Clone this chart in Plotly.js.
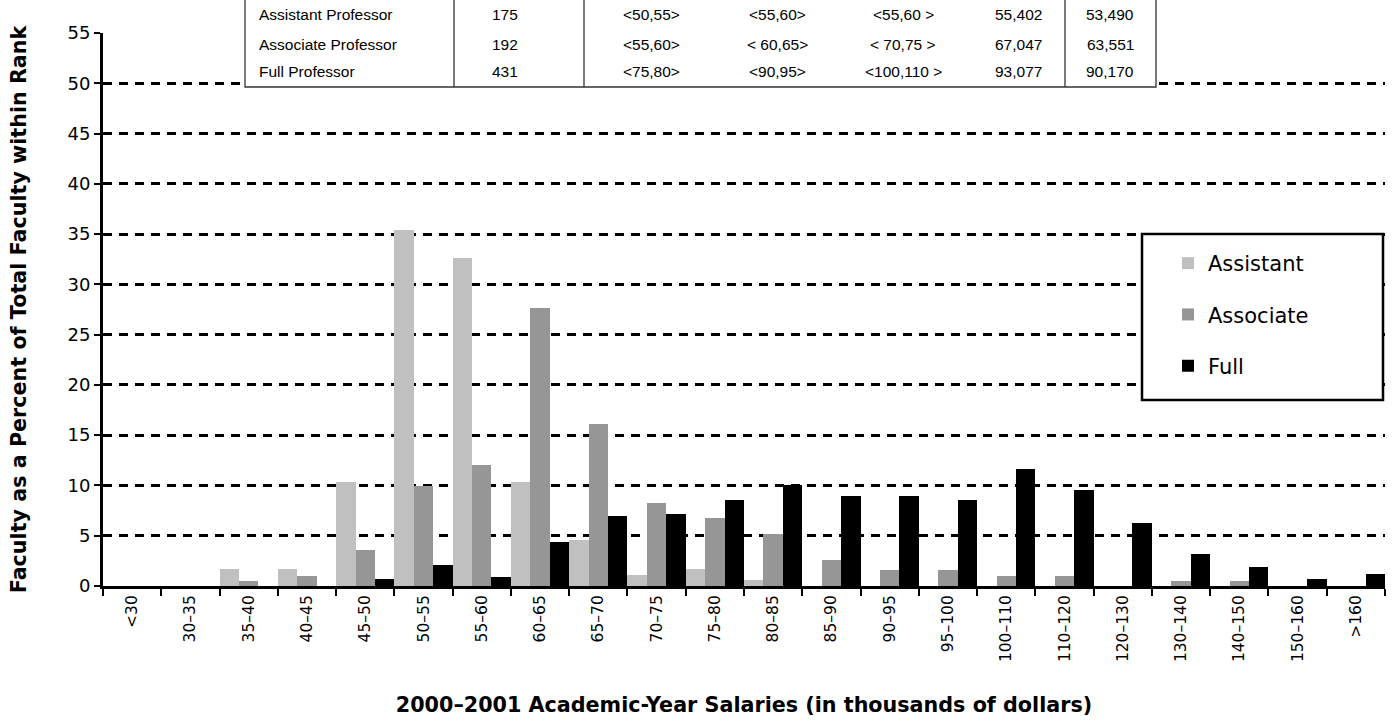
<!DOCTYPE html>
<html>
<head>
<meta charset="utf-8">
<script src="https://cdn.plot.ly/plotly-3.0.1.min.js"></script>
<style>html,body{margin:0;padding:0;background:#fff;}#chart{width:1394px;height:724px;}</style>
</head>
<body>
<div id="chart"></div>
<script>
// ---- Data ----
const categories = ["<30","30–35","35–40","40–45","45–50","50–55","55–60","60–65","65–70","70–75","75–80","80–85","85–90","90–95","95–100","100–110","110–120","120–130","130–140","140–150","150–160",">160"];
const assistant = [0,0,1.7,1.7,10.3,35.4,32.6,10.3,4.6,1.1,1.7,0.6,0,0,0,0,0,0,0,0,0,0];
const associate = [0,0,0.5,1.0,3.6,9.9,12.0,27.6,16.1,8.3,6.8,5.2,2.6,1.6,1.6,1.0,1.0,0,0.5,0.5,0,0];
const full = [0,0,0,0,0.7,2.1,0.9,4.4,7.0,7.2,8.6,10.0,9.0,9.0,8.6,11.6,9.5,6.3,3.2,1.9,0.7,1.2];
const seriesNames = ["Assistant","Associate","Full"];

// Summary table shown at top
const tableRanks = ["Assistant Professor","Associate Professor","Full Professor"];
const tableCounts = ["175","192","431"];
const tableMode1 = ["<50,55>","<55,60>","<75,80>"];
const tableMode2 = ["<55,60>","< 60,65>","<90,95>"];
const tableMedianBin = ["<55,60 >","< 70,75 >","<100,110 >"];
const tableMean = ["55,402","67,047","93,077"];
const tableMedian = ["53,490","63,551","90,170"];

// ---- Geometry helpers (pixel -> paper) ----
const L = 103, R = 1385, T = 33, B = 586;
const px = x => (x - L) / (R - L);
const py = y => (B - y) / (B - T);

const FONT = "DejaVu Sans, Verdana, sans-serif";
const TFONT = "Liberation Sans, Arial, sans-serif";

const colors = ["#c0c0c0", "#969696", "#000000"];
const series = [assistant, associate, full];
const traces = series.map((s, i) => ({
  type: "bar",
  x: categories,
  y: s,
  name: seriesNames[i],
  legendgroup: seriesNames[i],
  marker: {color: colors[i], line: {width: 0}},
  hoverinfo: "x+y+name"
}));

// table shapes & annotations
const shapes = [
  {type: "rect", xref: "paper", yref: "paper", x0: px(245), x1: px(1156), y0: py(87), y1: py(-4),
   fillcolor: "#ffffff", line: {color: "#333", width: 1.3}, layer: "above"},
  // legend box
  {type: "rect", xref: "paper", yref: "paper", x0: px(1142), x1: px(1383), y0: py(400), y1: py(234),
   fillcolor: "#ffffff", line: {color: "#000", width: 2.5}, layer: "above"}
];
[454, 584, 1065].forEach(xv => shapes.push({
  type: "line", xref: "paper", yref: "paper", x0: px(xv), x1: px(xv), y0: py(87), y1: py(-4),
  line: {color: "#333", width: 1.3}, layer: "above"
}));

const annotations = [];
const rowY = [15, 44, 71];
const colCenters = [505, 651, 777, 903, 1018, 1110];
const cols = [tableCounts, tableMode1, tableMode2, tableMedianBin, tableMean, tableMedian];
const esc = s => s.replace(/</g, "&lt;").replace(/>/g, "&gt;");
tableRanks.forEach((r, i) => {
  annotations.push({xref: "paper", yref: "paper", x: px(257), y: py(rowY[i]), text: r,
    showarrow: false, xanchor: "left", yanchor: "middle", font: {family: TFONT, size: 15.5, color: "#000"}});
  cols.forEach((c, j) => {
    annotations.push({xref: "paper", yref: "paper", x: px(colCenters[j]), y: py(rowY[i]), text: esc(c[i]),
      showarrow: false, xanchor: "center", yanchor: "middle", font: {family: TFONT, size: 15.5, color: "#000"}});
  });
});

const layout = {
  width: 1394, height: 724,
  margin: {l: L, r: 1394 - R, t: T, b: 724 - B, pad: 0},
  paper_bgcolor: "#ffffff", plot_bgcolor: "#ffffff",
  barmode: "group", bargap: 0, bargroupgap: 0,
  font: {family: FONT, color: "#000"},
  showlegend: true,
  legend: {
    x: px(1168), y: py(243), xanchor: "left", yanchor: "top",
    bgcolor: "rgba(0,0,0,0)", borderwidth: 0,
    font: {family: FONT, size: 21, color: "#000"},
    traceorder: "grouped", tracegroupgap: 21
  },
  xaxis: {
    type: "category",
    tickangle: -90,
    tickson: "boundaries",
    ticks: "outside", ticklen: 7, tickwidth: 2, tickcolor: "#000",
    showline: true, linewidth: 3, linecolor: "#000",
    showgrid: false, zeroline: false,
    tickfont: {family: FONT, size: 15.5, color: "#000"},
    automargin: false,
    title: {text: "2000–2001 Academic-Year Salaries (in thousands of dollars)",
      font: {family: FONT, size: 20.7, color: "#000", weight: "bold"}, standoff: 37}
  },
  yaxis: {
    range: [0, 55],
    tickvals: [0,5,10,15,20,25,30,35,40,45,50,55],
    ticks: "outside", ticklen: 6, tickwidth: 2, tickcolor: "#000",
    showline: true, linewidth: 3, linecolor: "#000",
    showgrid: true, gridcolor: "#000", gridwidth: 3, griddash: "9px,7px",
    zeroline: false,
    tickfont: {family: FONT, size: 18, color: "#000"},
    automargin: false,
    title: {text: "Faculty as a Percent of Total Faculty within Rank",
      font: {family: FONT, size: 20.7, color: "#000", weight: "bold"}, standoff: 36}
  },
  shapes: shapes,
  annotations: annotations
};

Plotly.newPlot("chart", traces, layout, {displayModeBar: false, staticPlot: true});
</script>
</body>
</html>
